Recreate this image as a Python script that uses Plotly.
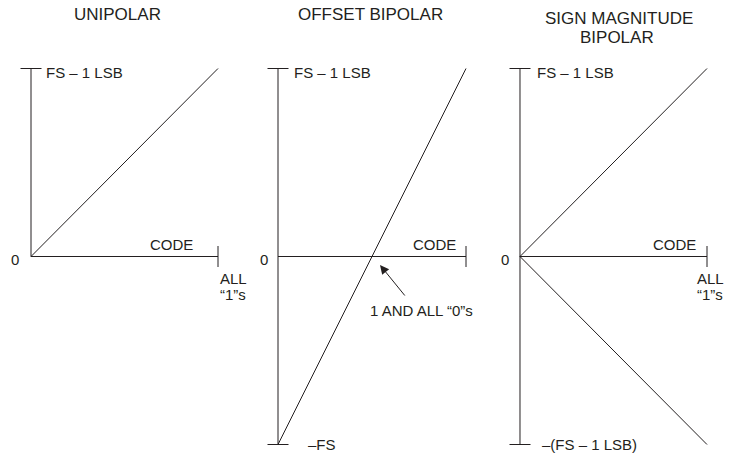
import plotly.graph_objects as go

# dados: código de entrada (0 = todos "0", 1 = todos "1") e saída normalizada (FS = 1)
codigo = [0, 1]
saida_unipolar = [0, 1]
saida_offset_bipolar = [-1, 1]
saida_sinal_mag_pos = [0, 1]
saida_sinal_mag_neg = [0, -1]

# eixos desenhados em cada painel
eixo_h_x = [0, 1]
eixo_h_y = [0, 0]
eixo_v_x_uni = [0, 0]
eixo_v_y_uni = [0, 1]
eixo_v_x_bip = [0, 0]
eixo_v_y_bip = [-1, 1]

titulos = ["UNIPOLAR", "OFFSET BIPOLAR", "SIGN MAGNITUDE", "BIPOLAR"]

W, H = 732, 455
COR = "#231f20"
FONTE = "Liberation Sans, Arial, Helvetica, sans-serif"

# posição em pixels: (x do zero, pixels por unidade)
paineis = [(31, 187), (278, 188), (520, 187)]
Y0, YU = 256.5, 188
PAD = 0.05


def px(x):
    return x / W


def py(y):
    return 1 - y / H


fig = go.Figure()

layout_eixos = {}
for i, (x0, xu) in enumerate(paineis):
    sufixo = "" if i == 0 else str(i + 1)
    layout_eixos["xaxis" + sufixo] = dict(
        domain=[px(x0 - PAD * xu), px(x0 + (1 + PAD) * xu)],
        range=[-PAD, 1 + PAD], visible=False, fixedrange=True,
        anchor="y" + sufixo,
    )
    layout_eixos["yaxis" + sufixo] = dict(
        domain=[py(Y0 + (1 + PAD) * YU), py(Y0 - (1 + PAD) * YU)],
        range=[-1 - PAD, 1 + PAD], visible=False, fixedrange=True,
        anchor="x" + sufixo,
    )


def linha(x, y, n):
    ref = "" if n == 1 else str(n)
    fig.add_trace(go.Scatter(
        x=x, y=y, mode="lines", xaxis="x" + ref, yaxis="y" + ref,
        line=dict(color=COR, width=1), hoverinfo="skip", showlegend=False,
    ))


def marca(x, y, simbolo, n):
    ref = "" if n == 1 else str(n)
    fig.add_trace(go.Scatter(
        x=x, y=y, mode="markers", xaxis="x" + ref, yaxis="y" + ref,
        marker=dict(symbol=simbolo, size=15, line=dict(color=COR, width=1)),
        cliponaxis=False, hoverinfo="skip", showlegend=False,
    ))


# painel 1 - unipolar
linha(eixo_v_x_uni, eixo_v_y_uni, 1)
linha(eixo_h_x, eixo_h_y, 1)
linha(codigo, saida_unipolar, 1)
marca([0], [1], "line-ew", 1)
marca([1], [0], "line-ns", 1)

# painel 2 - offset bipolar
linha(eixo_v_x_bip, eixo_v_y_bip, 2)
linha(eixo_h_x, eixo_h_y, 2)
linha(codigo, saida_offset_bipolar, 2)
marca([0, 0], [1, -1], "line-ew", 2)
marca([1], [0], "line-ns", 2)

# painel 3 - sinal e magnitude
linha(eixo_v_x_bip, eixo_v_y_bip, 3)
linha(eixo_h_x, eixo_h_y, 3)
linha(codigo, saida_sinal_mag_pos, 3)
linha(codigo, saida_sinal_mag_neg, 3)
marca([0, 0], [1, -1], "line-ew", 3)
marca([1], [0], "line-ns", 3)

anotacoes = []


def texto(t, x, y, tam=15, xanchor="left"):
    anotacoes.append(dict(
        text=t, x=px(x), y=py(y), xref="paper", yref="paper",
        xanchor=xanchor, yanchor="middle", showarrow=False,
        font=dict(size=tam, color=COR, family=FONTE),
    ))


texto(titulos[0], 117, 15, 17, "center")
texto(titulos[1], 370, 15, 17, "center")
texto(titulos[2], 619, 19, 17, "center")
texto(titulos[3], 617, 37, 17, "center")

for x in (44, 292, 535):
    texto("FS – 1 LSB", x, 72)
texto("0", 15, 259, 15, "center")
texto("0", 263.5, 259, 15, "center")
texto("0", 505, 259, 15, "center")
texto("CODE", 195, 244, 15, "right")
texto("CODE", 458, 244, 15, "right")
texto("CODE", 698, 244, 15, "right")
texto("ALL", 218, 278)
texto("“1”s", 218, 294)
texto("ALL", 695, 278)
texto("“1”s", 695, 294)
texto("1 AND ALL “0”s", 368, 310)
texto("–FS", 306, 444)
texto("–(FS – 1 LSB)", 540, 444)

# seta apontando para o cruzamento do zero
anotacoes.append(dict(
    x=(380 - 278) / 188, y=-(265 - Y0) / YU, xref="x2", yref="y2",
    ax=(406 - 278) / 188, ay=-(297 - Y0) / YU, axref="x2", ayref="y2",
    text="", showarrow=True, arrowhead=2, arrowsize=1.8, arrowwidth=1,
    arrowcolor=COR,
))

fig.update_layout(
    width=W, height=H,
    margin=dict(l=0, r=0, t=0, b=0),
    paper_bgcolor="white", plot_bgcolor="white",
    annotations=anotacoes,
    showlegend=False,
    **layout_eixos,
)

# a página tem margem padrão de 8px no body; zera para o gráfico ocupar a janela toda
fig.write_html("out.html", config=dict(displayModeBar=False),
               post_script="document.body.style.margin='0';")
